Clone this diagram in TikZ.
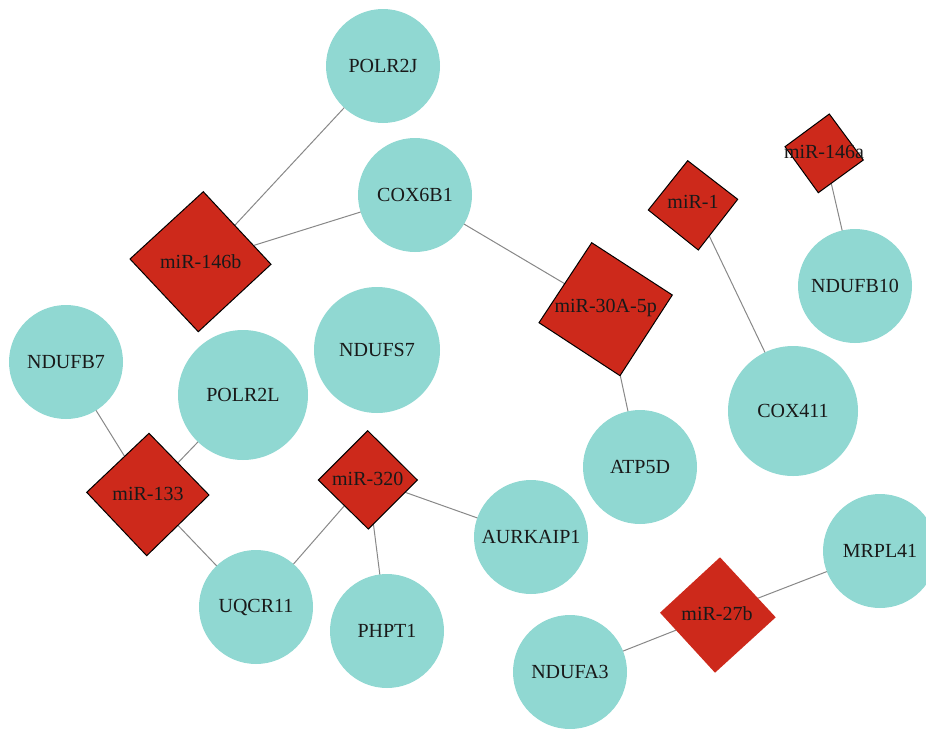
\documentclass[tikz,border=0pt]{standalone}
\usepackage{fontspec}
\setmainfont{Liberation Serif}
\usetikzlibrary{backgrounds}
\definecolor{teal}{HTML}{90D8D2}
\definecolor{mired}{HTML}{CD291B}
\definecolor{edgegray}{HTML}{888888}
\tikzset{
  gene/.style={circle, fill=teal, draw=none, inner sep=0pt, font=\fontsize{20}{24}\selectfont, text=black!90},
  mirlabel/.style={inner sep=0pt, font=\fontsize{20}{24}\selectfont, text=black!90},
  mirshape/.style={fill=mired, draw=black, line width=1pt, line join=miter},
  mirnoborder/.style={fill=mired, draw=none},
  link/.style={draw=edgegray, line width=1pt}
}
\begin{document}
\begin{tikzpicture}[x=1pt, y=-1pt]
\useasboundingbox (0,0) rectangle (926,728);
\clip (0,0) rectangle (926,728);

% diamonds (rotated squares)
\filldraw[mirshape] (203.3,191.7) -- (271,264.3) -- (198.3,331.7) -- (130,259) -- cycle;
\filldraw[mirshape] (591.7,242.7) -- (672.3,295) -- (620,375.7) -- (539,322.7) -- cycle;
\filldraw[mirshape] (687.7,160.7) -- (737.7,199.3) -- (698.3,250) -- (648.3,210) -- cycle;
\filldraw[mirshape] (829.3,114) -- (863.3,160) -- (818.3,192.7) -- (785,146.7) -- cycle;
\filldraw[mirshape] (149,433.3) -- (209,495) -- (146.7,555.7) -- (86.7,492.3) -- cycle;
\filldraw[mirshape] (367.7,430.7) -- (417.3,480) -- (368.3,529) -- (318.3,480) -- cycle;
\fill[mirnoborder] (720,557.3) -- (775.7,617.3) -- (715,672.7) -- (660,612.7) -- cycle;

\node[mirlabel] (m146b) at (200.7,262) {miR-146b};
\node[mirlabel] (m30a) at (605.7,308) {miR-30A-5p};
\node[mirlabel] (m1) at (693,202) {miR-1};
\node[mirlabel] (m146a) at (824,152) {miR-146a};
\node[mirlabel] (m133) at (148,494) {miR-133};
\node[mirlabel] (m320) at (367.7,479) {miR-320};
\node[mirlabel] (m27b) at (717,614) {miR-27b};

% genes
\node[gene, minimum size=114pt] (polr2j) at (383,66) {POLR2J};
\node[gene, minimum size=114pt] (cox6b1) at (415,195) {COX6B1};
\node[gene, minimum size=126pt] (ndufs7) at (377,350) {NDUFS7};
\node[gene, minimum size=130pt] (polr2l) at (243,395) {POLR2L};
\node[gene, minimum size=114pt] (ndufb7) at (66,362) {NDUFB7};
\node[gene, minimum size=114pt] (uqcr11) at (256,607) {UQCR11};
\node[gene, minimum size=114pt] (phpt1) at (387,631) {PHPT1};
\node[gene, minimum size=114pt] (aurkaip1) at (531,537) {AURKAIP1};
\node[gene, minimum size=114pt] (atp5d) at (640,467) {ATP5D};
\node[gene, minimum size=130pt] (cox411) at (793,411) {COX411};
\node[gene, minimum size=114pt] (ndufb10) at (855,286) {NDUFB10};
\node[gene, minimum size=114pt] (mrpl41) at (880,551) {MRPL41};
\node[gene, minimum size=114pt] (ndufa3) at (570,672) {NDUFA3};

\begin{scope}[on background layer]
\draw[link] (polr2j.center) -- (m146b.center);
\draw[link] (cox6b1.center) -- (m146b.center);
\draw[link] (cox6b1.center) -- (m30a.center);
\draw[link] (m30a.center) -- (atp5d.center);
\draw[link] (m1.center) -- (cox411.center);
\draw[link] (m146a.center) -- (ndufb10.center);
\draw[link] (ndufb7.center) -- (m133.center);
\draw[link] (polr2l.center) -- (m133.center);
\draw[link] (m133.center) -- (uqcr11.center);
\draw[link] (m320.center) -- (uqcr11.center);
\draw[link] (m320.center) -- (phpt1.center);
\draw[link] (m320.center) -- (aurkaip1.center);
\draw[link] (m27b.center) -- (mrpl41.center);
\draw[link] (m27b.center) -- (ndufa3.center);
\end{scope}
\end{tikzpicture}
\end{document}
